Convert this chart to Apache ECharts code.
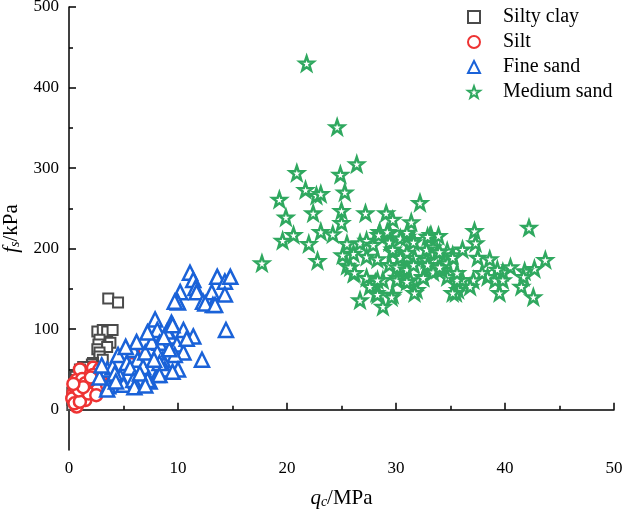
<!DOCTYPE html>
<html>
<head>
<meta charset="utf-8">
<script src="https://cdn.jsdelivr.net/npm/echarts@6/dist/echarts.min.js"></script>
<style>
  html, body { margin: 0; padding: 0; background: #fff; }
  #chart { width: 628px; height: 518px; }
</style>
</head>
<body>
<div id="chart"></div>
<script>
// [qc (MPa), fs (kPa)]
const siltyClay = [
  [3.6, 138], [4.5, 133], [2.6, 97], [3.1, 99], [3.5, 97], [4.0, 99], [2.8, 87], [3.3, 78],
  [3.8, 83], [2.7, 81], [2.6, 75], [3.5, 78], [2.8, 71], [2.8, 66], [3.1, 62], [2.2, 58],
  [2.1, 56], [1.7, 53], [1.3, 53], [1.0, 50], [1.0, 41], [0.6, 41], [0.6, 37], [0.4, 25],
  [0.3, 21], [0.3, 12], [0.3, 6], [1.5, 47], [0.8, 30], [0.5, 15]
]
const silt = [
  [0.7, 37], [1.2, 16], [1.5, 12], [2.1, 29], [2.2, 52], [3.0, 35], [2.8, 50], [1.0, 50],
  [5.9, 71], [0.4, 21], [0.7, 4], [2.6, 25], [1.2, 38], [2.2, 43], [3.0, 47], [0.6, 27],
  [0.3, 14], [0.5, 8], [1.0, 10], [1.8, 20], [2.5, 18], [1.5, 33], [0.9, 24], [3.5, 30],
  [2.0, 40], [1.3, 28], [0.4, 32]
]
const fineSand = [
  [11.1, 170], [11.4, 161], [11.6, 151], [10.2, 146], [9.9, 135], [11.7, 146], [12.3, 134],
  [13.1, 146], [13.2, 130], [13.6, 165], [14.3, 159], [14.8, 165], [14.3, 143], [14.4, 99],
  [12.5, 132], [13.4, 130], [10.0, 133], [9.7, 134], [7.9, 112], [9.4, 108], [10.5, 99],
  [11.4, 91], [9.3, 91], [8.1, 99], [9.9, 81], [12.2, 62], [8.3, 83], [10.5, 71], [9.7, 68],
  [8.6, 62], [10.0, 50], [8.8, 50], [8.1, 43], [7.4, 35], [3.5, 50], [4.0, 53], [4.5, 68],
  [5.3, 58], [5.9, 74], [6.3, 62], [6.8, 53], [7.0, 71], [7.6, 84], [8.1, 71], [8.3, 58],
  [9.0, 97], [9.5, 105], [7.2, 96], [6.2, 84], [5.6, 52], [4.7, 41], [3.6, 29], [5.0, 31],
  [5.9, 37], [7.2, 37], [8.3, 43], [9.5, 47], [3.5, 25], [4.2, 45], [6.5, 45], [7.8, 62],
  [9.2, 75], [10.8, 88], [6.0, 28], [4.3, 35], [5.2, 78], [8.7, 90], [7.0, 30], [2.8, 40],
  [3.0, 55]
]
const mediumSand = [
  [21.8, 430], [24.6, 351], [26.4, 305], [20.9, 294], [24.9, 292], [21.7, 273], [22.7, 266],
  [23.1, 268], [25.3, 270], [19.3, 261], [19.9, 239], [22.4, 244], [25.0, 247], [25.0, 232],
  [27.2, 244], [29.1, 244], [29.7, 236], [31.4, 233], [32.2, 257], [20.6, 217], [19.6, 210],
  [23.1, 221], [24.2, 218], [22.0, 206], [22.8, 185], [17.7, 182], [28.5, 221], [29.4, 220],
  [31.0, 218], [33.2, 217], [25.5, 206], [26.1, 194], [26.7, 207], [27.3, 210], [27.9, 205],
  [28.4, 217], [29.2, 221], [29.4, 208], [25.5, 179], [26.1, 169], [27.3, 190], [28.3, 187],
  [27.3, 164], [28.1, 158], [28.2, 145], [26.7, 136], [28.8, 128], [28.8, 161], [29.7, 143],
  [29.7, 196], [30.4, 190], [31.0, 215], [31.6, 211], [30.6, 176], [31.3, 161], [31.9, 149],
  [31.6, 182], [32.5, 165], [32.8, 186], [33.1, 215], [33.4, 202], [33.8, 174], [30.1, 164],
  [29.4, 180], [33.9, 216], [32.8, 199], [33.8, 196], [34.7, 197], [35.2, 192], [36.1, 199],
  [37.2, 222], [37.3, 207], [37.5, 189], [38.6, 187], [42.2, 226], [43.7, 186], [42.7, 175],
  [41.8, 172], [41.7, 165], [40.5, 177], [39.8, 171], [39.3, 174], [39.1, 161], [39.5, 145],
  [38.4, 165], [37.9, 170], [37.1, 161], [36.8, 153], [36.1, 161], [35.7, 149], [35.5, 145],
  [34.7, 165], [34.2, 174], [33.1, 177], [32.5, 164], [41.5, 153], [42.6, 140], [39.8, 161],
  [30.4, 213], [31.0, 220], [31.6, 208], [32.9, 215], [29.7, 199], [30.4, 189], [31.0, 195],
  [31.7, 189], [30.1, 177], [31.0, 174], [31.6, 180], [34.0, 196], [34.7, 182], [32.9, 180],
  [33.4, 171], [34.0, 177], [28.3, 161], [27.6, 153], [28.3, 143], [29.6, 140], [30.1, 161],
  [31.0, 159], [31.7, 145], [25.8, 177], [26.2, 170], [25.1, 192], [35.2, 145], [35.6, 161],
  [35.2, 189], [35.6, 170]
]
const yMajorTicks = [0, 100, 200, 300, 400, 500]
const yMinorTicks = [50, 150, 250, 350, 450]

const font = 'Liberation Serif'
const starPath = 'path://M0,-10L2.35,-3.24L9.51,-3.09L3.8,1.24L5.88,8.09L0,4L-5.88,8.09L-3.8,1.24L-9.51,-3.09L-2.35,-3.24Z'

const makeSeries = (name, data, symbol, size, color, width) => ({
  name,
  type: 'scatter',
  data,
  symbol,
  symbolSize: size,
  itemStyle: {
    color: '#fff',
    borderColor: color,
    borderWidth: width,
    opacity: 1,
  },
})

const nameStyle = {
  fontFamily: font,
  fontSize: 21,
  color: '#000',
  rich: {
    i: { fontFamily: font, fontSize: 21, fontStyle: 'italic', color: '#000' },
    sub: { fontFamily: font, fontSize: 14, fontStyle: 'italic', color: '#000', verticalAlign: 'bottom', padding: [8, 0, 0, 0] },
  },
}

const chart = echarts.init(document.getElementById('chart'))
const axisLine = { show: true, lineStyle: { color: '#000', width: 1.5 } }

chart.setOption({
  animation: false,
  textStyle: { fontFamily: font },
  grid: { left: 69, right: 14, top: 7, bottom: 68, outerBoundsMode: 'none', containLabel: false },
  legend: {
    orient: 'vertical',
    left: 462,
    top: 2,
    itemWidth: 12,
    itemHeight: 12,
    itemGap: 5,
    textStyle: { fontFamily: font, fontSize: 20, color: '#000', padding: [0, 0, 0, 18] },
    data: ['Silty clay', 'Silt', 'Fine sand', 'Medium sand'],
  },
  xAxis: {
    type: 'value',
    min: 0,
    max: 50,
    interval: 10,
    name: '{i|q}{sub|c}/MPa',
    nameLocation: 'middle',
    nameGap: 37,
    nameTextStyle: nameStyle,
    axisLine,
    axisTick: { inside: true, length: 7, lineStyle: { color: '#000', width: 1.5 } },
    minorTick: { show: true, splitNumber: 2, length: 4, lineStyle: { color: '#000', width: 1.5 } },
    axisLabel: { fontFamily: font, fontSize: 17, color: '#000', margin: 10 },
    splitLine: { show: false },
  },
  yAxis: [
    {
      type: 'value',
      min: -50,
      max: 500,
      name: '{i|f}{sub|s}/kPa',
      nameLocation: 'middle',
      nameGap: 46,
      nameRotate: 90,
      nameTextStyle: nameStyle,
      axisLine,
      axisTick: { inside: true, length: 7, customValues: yMajorTicks, lineStyle: { color: '#000', width: 1.5 } },
      axisLabel: { fontFamily: font, fontSize: 17, color: '#000', margin: 10, customValues: yMajorTicks },
      splitLine: { show: false },
    },
    {
      type: 'value',
      min: -50,
      max: 500,
      position: 'left',
      axisLine: { show: false },
      axisTick: { inside: true, length: 4, customValues: yMinorTicks, lineStyle: { color: '#000', width: 1.5 } },
      axisLabel: { show: false },
      splitLine: { show: false },
    },
  ],
  series: [
    makeSeries('Silty clay', siltyClay, 'rect', 10, '#4a4a4a', 2),
    makeSeries('Silt', silt, 'circle', 12, '#ee3333', 2.5),
    makeSeries('Fine sand', fineSand, 'triangle', 14, '#1a62d8', 2.5),
    makeSeries('Medium sand', mediumSand, starPath, 14, '#2fa85f', 2.5),
  ],
})
</script>
</body>
</html>
